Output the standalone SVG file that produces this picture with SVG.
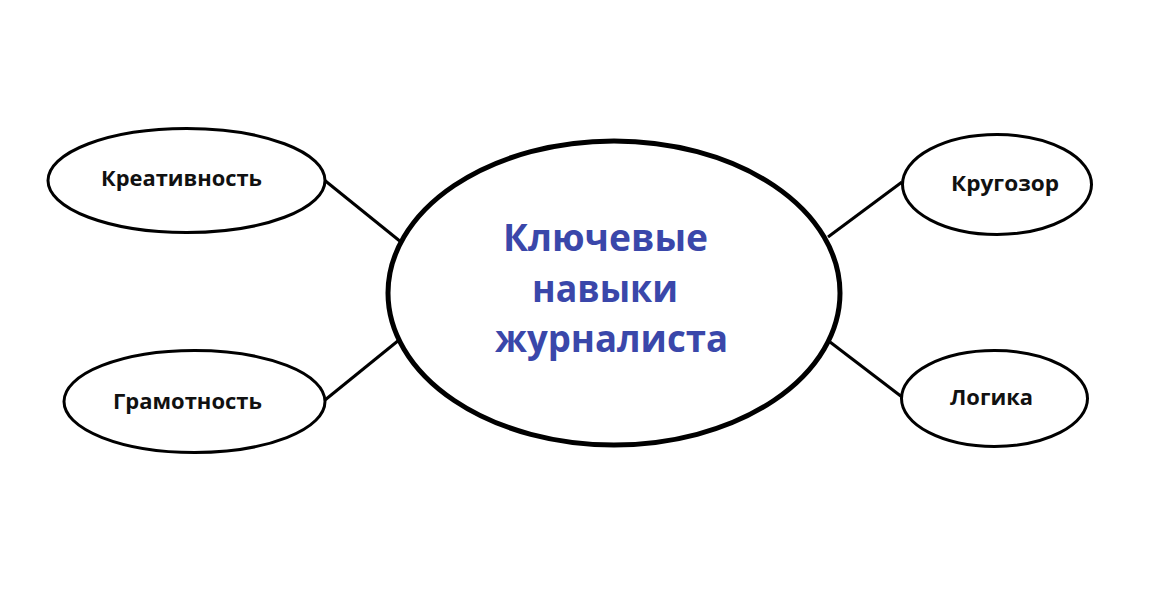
<svg xmlns="http://www.w3.org/2000/svg" width="1172" height="591" viewBox="0 0 1172 591">
<style>
.node{fill:#fff;stroke:#000;stroke-width:3}
.main{fill:#fff;stroke:#000;stroke-width:5}
.lbl{font-family:"Open Sans","Noto Sans","DejaVu Sans",sans-serif;font-weight:700;font-size:22px;fill:#111}
.title{font-family:"Open Sans","Noto Sans","DejaVu Sans",sans-serif;font-weight:700;font-size:37.5px;fill:#3a47aa}
.conn{stroke:#000;stroke-width:3;fill:none}
</style>
<rect width="1172" height="591" fill="#fff"/>
<g id="connectors">
<line class="conn" x1="323" y1="179" x2="401" y2="242"/>
<line class="conn" x1="325" y1="400" x2="399" y2="340"/>
<line class="conn" x1="828" y1="237" x2="902" y2="182"/>
<line class="conn" x1="830" y1="342" x2="902" y2="397"/>
</g>
<g id="center">
<ellipse class="main" cx="614" cy="293" rx="226" ry="152"/>
<text class="title" x="503" y="251" textLength="205" lengthAdjust="spacingAndGlyphs">Ключевые</text>
<text class="title" x="532" y="302" textLength="146" lengthAdjust="spacingAndGlyphs">навыки</text>
<text class="title" x="495" y="352" textLength="233" lengthAdjust="spacingAndGlyphs">журналиста</text>
</g>
<g id="kreativnost">
<ellipse class="node" cx="186.5" cy="180.5" rx="138.5" ry="52"/>
<text class="lbl" x="101" y="186" textLength="161" lengthAdjust="spacingAndGlyphs">Креативность</text>
</g>
<g id="gramotnost">
<ellipse class="node" cx="194.5" cy="401.5" rx="130.5" ry="51"/>
<text class="lbl" x="113" y="409" textLength="149" lengthAdjust="spacingAndGlyphs">Грамотность</text>
</g>
<g id="krugozor">
<ellipse class="node" cx="997" cy="184.5" rx="94.5" ry="50"/>
<text class="lbl" x="951" y="191" textLength="108" lengthAdjust="spacingAndGlyphs">Кругозор</text>
</g>
<g id="logika">
<ellipse class="node" cx="994.5" cy="398.5" rx="93" ry="48"/>
<text class="lbl" x="950" y="405" textLength="83" lengthAdjust="spacingAndGlyphs">Логика</text>
</g>
</svg>
